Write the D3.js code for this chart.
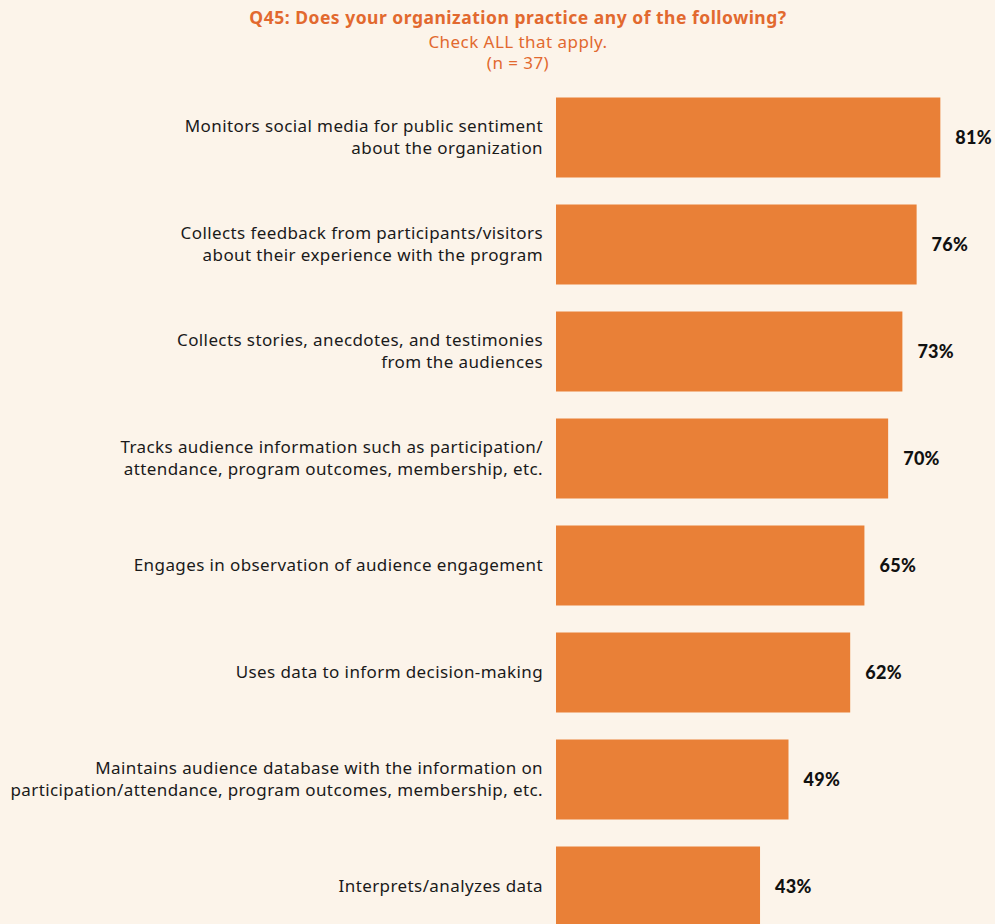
<!DOCTYPE html>
<html>
<head>
<meta charset="utf-8">
<script src="https://cdn.jsdelivr.net/npm/d3@7"></script>
<style>
  html, body { margin: 0; padding: 0; background: #fcf4ea; }
  svg { display: block; }
</style>
</head>
<body>
<div id="chart"></div>
<script>
// Survey question and response base
const titleText = "Q45: Does your organization practice any of the following?";
const subtitleLines = ["Check ALL that apply.", "(n = 37)"];

// Practice labels (each entry is the list of lines drawn for that row)
const categories = [
  ["Monitors social media for public sentiment", "about the organization"],
  ["Collects feedback from participants/visitors", "about their experience with the program"],
  ["Collects stories, anecdotes, and testimonies", "from the audiences"],
  ["Tracks audience information such as participation/", "attendance, program outcomes, membership, etc."],
  ["Engages in observation of audience engagement"],
  ["Uses data to inform decision-making"],
  ["Maintains audience database with the information on", "participation/attendance, program outcomes, membership, etc."],
  ["Interprets/analyzes data"]
];

// Share of organizations (%)
const values = [81, 76, 73, 70, 65, 62, 49, 43];

const width = 995, height = 924;
const fontFamily = "'Noto Sans', Lato, sans-serif";
const barColor = "#e98037";
const titleColor = "#e2692f";
const textColor = "#1a1a1a";

const svg = d3.select("#chart").append("svg")
  .attr("width", width)
  .attr("height", height)
  .style("background", "#fcf4ea");

const ids = d3.range(categories.length);

const x = d3.scaleLinear().domain([0, 100]).range([556, 1030.5]);
const y = d3.scaleBand().domain(ids).range([97.5, 926.5]).paddingInner(27 / 107).paddingOuter(0);

// Heading
svg.append("text")
  .attr("x", 518).attr("y", 24)
  .attr("text-anchor", "middle")
  .attr("font-family", fontFamily)
  .attr("font-weight", 700)
  .attr("font-size", 17.5)
  .attr("letter-spacing", 0.5)
  .attr("fill", titleColor)
  .text(titleText);

svg.selectAll("text.sub")
  .data(subtitleLines)
  .join("text")
  .attr("class", "sub")
  .attr("x", 518)
  .attr("y", (d, i) => 48 + i * 21)
  .attr("text-anchor", "middle")
  .attr("font-family", fontFamily)
  .attr("font-size", 17)
  .attr("letter-spacing", 0.45)
  .attr("fill", titleColor)
  .text(d => d);

// Bars
svg.selectAll("rect.bar")
  .data(ids)
  .join("rect")
  .attr("class", "bar")
  .attr("x", x(0))
  .attr("y", i => y(i))
  .attr("width", i => x(values[i]) - x(0))
  .attr("height", y.bandwidth())
  .attr("fill", barColor);

// Category labels, right-aligned to the left of the bars
const lineGap = 22;
const labels = svg.selectAll("text.cat")
  .data(ids)
  .join("text")
  .attr("class", "cat")
  .attr("text-anchor", "end")
  .attr("font-family", fontFamily)
  .attr("font-size", 17)
  .attr("letter-spacing", 0.4)
  .attr("fill", textColor);

labels.each(function(i) {
  const lines = categories[i];
  const cy = y(i) + y.bandwidth() / 2;
  const first = cy - (lines.length - 1) * lineGap / 2;
  d3.select(this).selectAll("tspan")
    .data(lines)
    .join("tspan")
    .attr("x", x(0) - 13)
    .attr("y", (d, k) => first + k * lineGap)
    .attr("dy", "0.35em")
    .text(d => d);
});

// Value labels at the end of each bar
svg.selectAll("text.val")
  .data(ids)
  .join("text")
  .attr("class", "val")
  .attr("x", i => x(values[i]) + 15)
  .attr("y", i => y(i) + y.bandwidth() / 2)
  .attr("dy", "0.35em")
  .attr("font-family", "Lato, 'Noto Sans', sans-serif")
  .attr("font-weight", 900)
  .attr("font-size", 18)
  .attr("letter-spacing", 0.3)
  .attr("fill", "#111")
  .text(i => values[i] + "%");
</script>
</body>
</html>
